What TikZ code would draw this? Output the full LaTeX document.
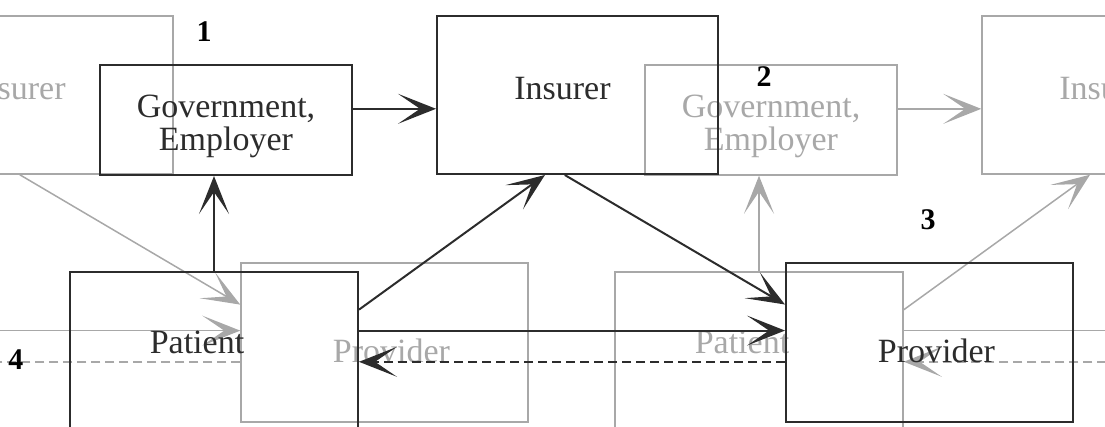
\documentclass[tikz,border=0pt]{standalone}
\usepackage{fontspec}
\setmainfont{Liberation Serif}
\usetikzlibrary{arrows.meta,calc}

\definecolor{inkdark}{HTML}{2C2C2C}
\definecolor{inkgrey}{HTML}{A8A8A8}

\tikzset{
  ink/.style={line width=2pt},
  box/.style={draw, ink, inner sep=0pt},
  lbl/.style={font=\fontsize{34}{33}\selectfont, align=center, inner sep=0pt},
  num/.style={font=\fontsize{30}{30}\selectfont\bfseries, text=black, inner sep=0pt},
  arr/.style={ink, -{Stealth[length=38pt,width=30pt,inset=22pt]}},
  back/.style={arr, dash pattern=on 9pt off 5pt},
}

% one copy of the care cycle, placed by the surrounding scope
\newcommand{\carecycle}{%
  \node[box, minimum width=252pt, minimum height=110pt] (gov) at (226,120) {};
  \node[box, minimum width=281pt, minimum height=158pt] (ins) at (577.5,95) {};
  \node[box, minimum width=288pt, minimum height=159pt] (pat) at (214,351.5) {};
  \node[box, minimum width=287pt, minimum height=159pt] (pro) at (929.5,342.5) {};

  \node[lbl] (gov-t) at ([yshift=-6pt]gov.center) {Government,\\Employer};
  \node[lbl] (ins-t) at ([xshift=-15pt,yshift=6pt]ins.center) {Insurer};
  \node[lbl] (pat-t) at ([xshift=-17pt,yshift=9pt]pat.center) {Patient};
  \node[lbl] (pro-t) at ([xshift=7pt,yshift=-8pt]pro.center) {Provider};

  \draw[arr] ($(gov.north east)!.4!(gov.south east)$) coordinate (ga) -- (ga -| ins.west);
  \draw[arr] (pat.north) -- (pat.north |- gov.south);
  \draw[arr] ($(pat.north east)!.24!(pat.south east)$) -- ($(ins.south west)!.385!(ins.south east)$);
  \draw[arr] ($(ins.south west)!.455!(ins.south east)$) -- ($(pro.north west)!.264!(pro.south west)$);
  \draw[arr] ($(pat.north east)!.37!(pat.south east)$) coordinate (pa) -- (pa -| pro.west);
  \draw[back] ($(pro.north west)!.62!(pro.south west)$) coordinate (pb) -- (pb -| pat.east);
}

\begin{document}
\begin{tikzpicture}[x=1pt, y=-1pt]
  \useasboundingbox (0,0) rectangle (1105,427);
  \clip (0,0) rectangle (1105,427);

  % faded copies on either side
  \begin{scope}[xshift=-545pt, name prefix=l-, color=inkgrey, ink/.style={line width=1.5pt}]
    \carecycle
  \end{scope}
  \begin{scope}[xshift=545pt, name prefix=r-, color=inkgrey, ink/.style={line width=1.5pt}]
    \carecycle
  \end{scope}

  % main copy
  \begin{scope}[color=inkdark]
    \carecycle
  \end{scope}

  \node[num] (n1) at (204,32) {1};
  \node[num] (n2) at (764,77) {2};
  \node[num] (n3) at (928,220) {3};
  \node[num] (n4) at (16,360) {4};
\end{tikzpicture}
\end{document}
